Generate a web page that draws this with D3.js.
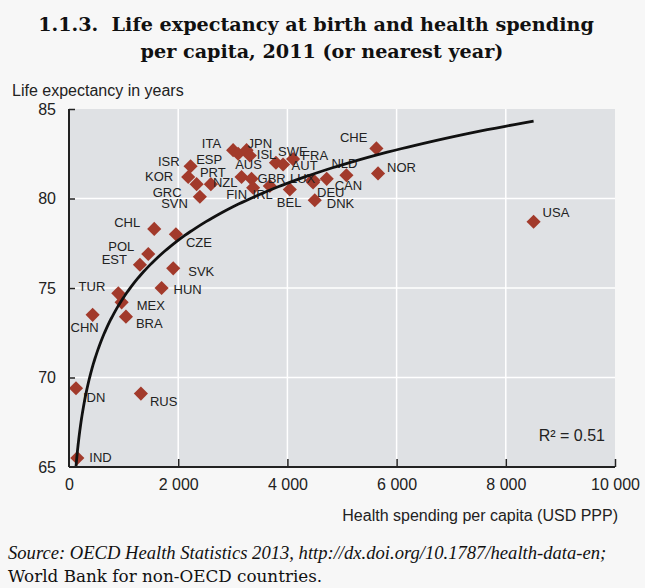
<!DOCTYPE html>
<html>
<head>
<meta charset="utf-8">
<script src="https://cdn.jsdelivr.net/npm/d3@7"></script>
<style>
  body { margin: 0; background: #f7f7f7; }
  svg { display: block; }
</style>
</head>
<body>
<script>
var width = 645, height = 588;

// country codes
var countries = ["IND", "IDN", "CHN", "RUS", "BRA", "MEX", "TUR", "HUN", "SVK", "EST", "POL", "CHL", "CZE",
  "SVN", "GRC", "KOR", "ISR", "PRT", "ITA", "ESP", "JPN", "ISL", "NZL", "GBR", "FIN", "AUS", "SWE", "FRA",
  "IRL", "BEL", "LUX", "DEU", "AUT", "CAN", "NLD", "DNK", "CHE", "NOR", "USA"];
// health spending per capita, USD PPP
var spending = [152, 128, 433, 1317, 1043, 964, 903, 1696, 1909, 1299, 1452, 1561, 1958,
  2397, 2337, 2183, 2227, 2598, 3006, 3098, 3252, 3312, 3160, 3343, 3372, 3790, 3921, 4104,
  3678, 4044, 4450, 4470, 4480, 4720, 5081, 4501, 5630, 5660, 8509];
// life expectancy at birth, years
var lifeExp = [65.5, 69.4, 73.5, 69.1, 73.4, 74.2, 74.7, 75.0, 76.1, 76.3, 76.9, 78.3, 78.0,
  80.1, 80.8, 81.2, 81.8, 80.8, 82.7, 82.5, 82.7, 82.4, 81.2, 81.1, 80.6, 82.0, 81.9, 82.2,
  80.7, 80.5, 81.0, 80.9, 81.0, 81.1, 81.3, 79.9, 82.8, 81.4, 78.7];

// logarithmic trend: life = trendA + trendB * ln(spending)
var trendA = 42.7, trendB = 4.6;

var xTicks = [0, 2000, 4000, 6000, 8000, 10000];
var yTicks = [65, 70, 75, 80, 85];

// label placement: [dx, dy, anchor]
var labelPos = {
  IND: [12, 4, "start"], IDN: [7, 14, "start"], CHN: [-8, 17, "middle"], RUS: [9, 12, "start"],
  BRA: [10, 11, "start"], MEX: [15, 8, "start"], TUR: [-13, -2, "end"], HUN: [12, 6, "start"],
  SVK: [15, 8, "start"], EST: [-13, -1, "end"], POL: [-14, -3, "end"], CHL: [-14, -2, "end"],
  CZE: [10, 13, "start"], SVN: [-12, 11, "end"], GRC: [-15, 13, "end"], KOR: [-15, 4, "end"],
  ISR: [-11, 0, "end"], PRT: [2, -7, "middle"], ITA: [-12, -2, "end"], ESP: [-16, 10, "end"],
  JPN: [1, -2, "start"], ISL: [7, 3, "start"], NZL: [-4, 10, "end"], GBR: [6, 4, "start"],
  FIN: [-6, 11, "end"], AUS: [-14, 6, "end"], SWE: [-5, -8, "start"], FRA: [9, 1, "start"],
  IRL: [3, 13, "end"], BEL: [-13, 17, "start"], LUX: [-22, 2, "start"], DEU: [4, 15, "start"],
  AUT: [4, -11, "end"], CAN: [8, 11, "start"], NLD: [-2, -7, "middle"], DNK: [12, 8, "start"],
  CHE: [-9, -6, "end"], NOR: [9, -1, "start"], USA: [9, -5, "start"]
};

var data = countries.map(function(c, i) {
  return { code: c, x: spending[i], y: lifeExp[i] };
});

var svg = d3.select("body").append("svg")
  .attr("width", width)
  .attr("height", height);

var x = d3.scaleLinear().domain([0, 10000]).range([69, 615]);
var y = d3.scaleLinear().domain([65, 85]).range([467, 109]);

var fmt = function(d) { return d3.format(",")(d).replace(/,/g, " "); };
var sans = "Liberation Sans, Arial, sans-serif";

// title
var title = svg.append("text")
  .attr("text-anchor", "middle")
  .attr("font-family", "DejaVu Serif, serif")
  .attr("font-weight", "bold")
  .attr("font-size", 19.2)
  .attr("fill", "#111");
title.append("tspan").attr("x", 316).attr("y", 31).text("1.1.3.\u00a0\u00a0Life expectancy at birth and health spending");
title.append("tspan").attr("x", 322).attr("y", 58).text("per capita, 2011 (or nearest year)");

// plot background
svg.append("rect")
  .attr("x", x(0)).attr("y", y(85))
  .attr("width", x(10000) - x(0)).attr("height", y(65) - y(85))
  .attr("fill", "#dfe1e4");

// grid
svg.append("g").selectAll("line")
  .data(xTicks.slice(1, -1))
  .enter().append("line")
  .attr("x1", function(d) { return x(d); }).attr("x2", function(d) { return x(d); })
  .attr("y1", y(85)).attr("y2", y(65))
  .attr("stroke", "#fff").attr("stroke-width", 1.5);

svg.append("g").selectAll("line")
  .data(yTicks.slice(1, -1))
  .enter().append("line")
  .attr("x1", x(0)).attr("x2", x(10000))
  .attr("y1", function(d) { return y(d); }).attr("y2", function(d) { return y(d); })
  .attr("stroke", "#fff").attr("stroke-width", 1.5);

// points
svg.append("g").selectAll("path")
  .data(data)
  .enter().append("path")
  .attr("d", d3.symbol().type(d3.symbolSquare).size(100))
  .attr("transform", function(d) { return "translate(" + x(d.x) + "," + y(d.y) + ") rotate(45)"; })
  .attr("fill", "#a23a2b");

// labels
svg.append("g").selectAll("text")
  .data(data)
  .enter().append("text")
  .attr("x", function(d) { return x(d.x) + labelPos[d.code][0]; })
  .attr("y", function(d) { return y(d.y) + labelPos[d.code][1]; })
  .attr("text-anchor", function(d) { return labelPos[d.code][2]; })
  .attr("font-family", sans)
  .attr("font-size", 13)
  .attr("fill", "#222")
  .text(function(d) { return d.code; });

// trend line, from where it enters the plot to the largest spending
var xStart = Math.exp((65 - trendA) / trendB), xEnd = d3.max(spending);
var curve = d3.range(0, 201).map(function(i) {
  return Math.exp(Math.log(xStart) + (Math.log(xEnd) - Math.log(xStart)) * i / 200);
});
svg.append("path")
  .datum(curve)
  .attr("d", d3.line()
    .x(function(d) { return x(d); })
    .y(function(d) { return y(trendA + trendB * Math.log(d)); }))
  .attr("fill", "none")
  .attr("stroke", "#111")
  .attr("stroke-width", 2.8);

// axes
var axisX = d3.axisBottom(x).tickValues(xTicks).tickSize(0).tickPadding(12).tickFormat(fmt);
var gx = svg.append("g").attr("transform", "translate(0," + y(65) + ")").call(axisX);
gx.select(".domain").remove();
gx.selectAll("text").attr("font-family", sans).attr("font-size", 16).attr("fill", "#222");
gx.selectAll(".tick").filter(function(d) { return d > 0; }).append("line")
  .attr("y1", 0).attr("y2", -8).attr("stroke", "#222").attr("stroke-width", 1.5);
svg.append("line")
  .attr("x1", x(0)).attr("x2", x(10000)).attr("y1", y(65)).attr("y2", y(65))
  .attr("stroke", "#222").attr("stroke-width", 2);

var axisY = d3.axisLeft(y).tickValues(yTicks).tickSize(0).tickPadding(13);
var gy = svg.append("g").attr("transform", "translate(" + x(0) + ",0)").call(axisY);
gy.select(".domain").remove();
gy.selectAll("text").attr("font-family", sans).attr("font-size", 16).attr("fill", "#222");
gy.selectAll(".tick").filter(function(d) { return d > 65; }).append("line")
  .attr("x1", 0).attr("x2", 6).attr("stroke", "#222").attr("stroke-width", 1.5);
svg.append("line")
  .attr("x1", x(0)).attr("x2", x(0)).attr("y1", y(85)).attr("y2", y(65))
  .attr("stroke", "#222").attr("stroke-width", 2);

// axis titles
svg.append("text")
  .attr("x", 12).attr("y", 96)
  .attr("font-family", sans).attr("font-size", 16).attr("fill", "#222")
  .text("Life expectancy in years");
svg.append("text")
  .attr("x", 618).attr("y", 521).attr("text-anchor", "end")
  .attr("font-family", sans).attr("font-size", 16).attr("fill", "#222")
  .text("Health spending per capita (USD PPP)");

// r squared
svg.append("text")
  .attr("x", 605).attr("y", 441).attr("text-anchor", "end")
  .attr("font-family", sans).attr("font-size", 16).attr("fill", "#222")
  .text("R\u00b2 = 0.51");

// source
svg.append("text")
  .attr("x", 8).attr("y", 559)
  .attr("font-family", "Liberation Serif, serif").attr("font-style", "italic").attr("font-size", 18.6).attr("fill", "#111")
  .text("Source: OECD Health Statistics 2013, http://dx.doi.org/10.1787/health-data-en;");
svg.append("text")
  .attr("x", 8).attr("y", 582)
  .attr("font-family", "DejaVu Serif, serif").attr("font-size", 16.8).attr("fill", "#111")
  .text("World Bank for non-OECD countries.");
</script>
</body>
</html>
